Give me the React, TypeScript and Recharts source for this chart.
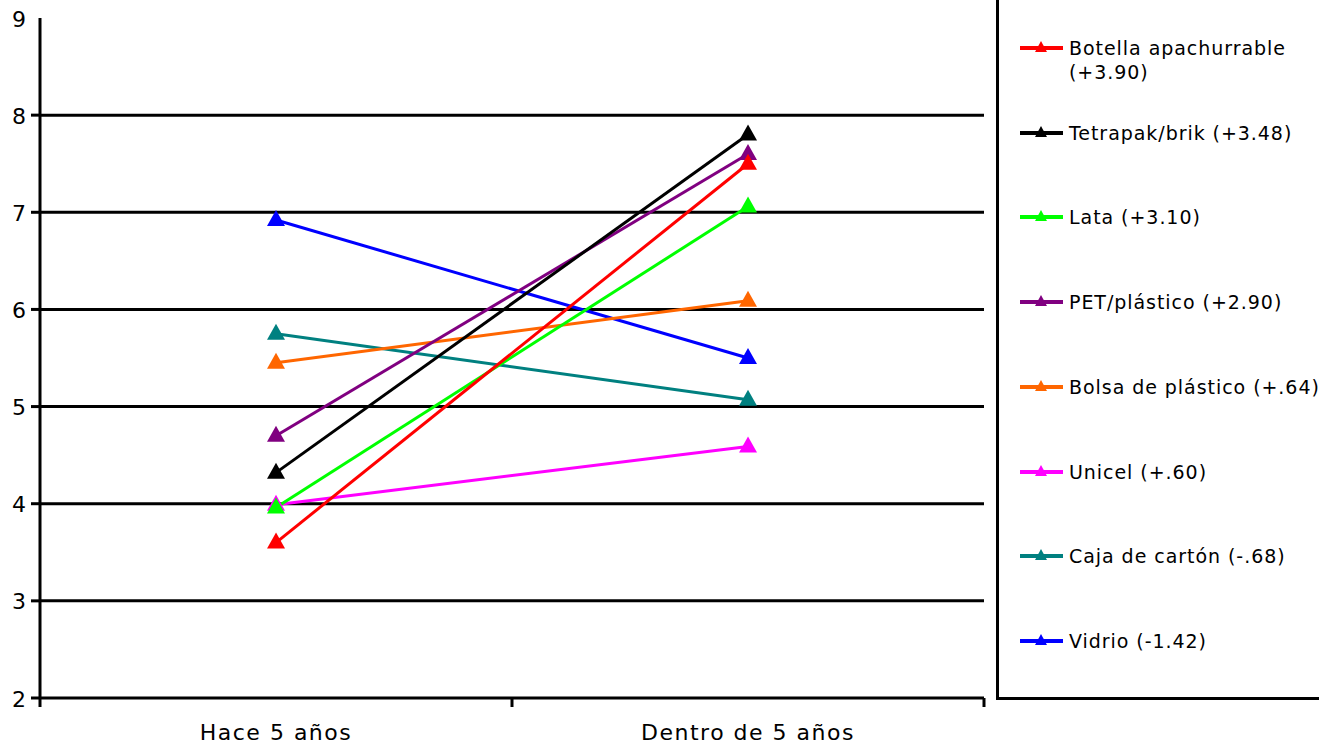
import React from 'react';
import { LineChart, Line, XAxis, YAxis, CartesianGrid, Legend } from 'recharts';

const categories = ['Hace 5 años', 'Dentro de 5 años'];
const categoryPositions = [0.5, 1.5];
const xTicks = [0, 0.5, 1, 1.5, 2];

const botella = [3.6, 7.5];
const tetrapak = [4.32, 7.8];
const lata = [3.96, 7.06];
const pet = [4.7, 7.6];
const bolsa = [5.45, 6.09];
const unicel = [3.99, 4.59];
const caja = [5.75, 5.07];
const vidrio = [6.92, 5.5];

const seriesNames = [
  'Botella apachurrable (+3.90)',
  'Tetrapak/brik (+3.48)',
  'Lata (+3.10)',
  'PET/plástico (+2.90)',
  'Bolsa de plástico (+.64)',
  'Unicel (+.60)',
  'Caja de cartón (-.68)',
  'Vidrio (-1.42)',
];
const seriesColors = ['#FF0000', '#000000', '#00FF00', '#800080', '#FF6600', '#FF00FF', '#008080', '#0000FF'];
const seriesValues = [botella, tetrapak, lata, pet, bolsa, unicel, caja, vidrio];

const yTicks = [2, 3, 4, 5, 6, 7, 8, 9];
const gridValues = [3, 4, 5, 6, 7, 8];

const data = categories.map((c, i) => {
  const row: any = { x: categoryPositions[i], cat: c };
  seriesValues.forEach((vals, s) => {
    row['s' + s] = vals[i];
  });
  return row;
});

const FONT = '"DejaVu Sans", Verdana, sans-serif';

const makeDot = (color: string) => (props: any) => {
  const { cx, cy, key, index } = props;
  if (cx == null || cy == null) return <g key={key ?? index} />;
  const pts = `${cx},${cy - 10} ${cx - 9},${cy + 6} ${cx + 9},${cy + 6}`;
  return <polygon key={key ?? `d${index}`} points={pts} fill={color} stroke="none" />;
};

const YTick = (props: any) => {
  const { x, y, payload } = props;
  const v = payload.value;
  return (
    <g>
      {v !== 9 && <line x1={x - 9} y1={y} x2={x} y2={y} stroke="#000" strokeWidth={3} />}
      <text x={x - 14} y={y + 1} textAnchor="end" dominantBaseline="central" fontSize={22} fontFamily={FONT} fill="#000">
        {v}
      </text>
    </g>
  );
};

const XTick = (props: any) => {
  const { x, y, payload } = props;
  const v = payload.value;
  if (Number.isInteger(v)) {
    return <line x1={x} y1={y} x2={x} y2={y + 9} stroke="#000" strokeWidth={3} />;
  }
  const label = categories[Math.floor(v)];
  return (
    <text x={x} y={y + 42} textAnchor="middle" fontSize={22} letterSpacing={1.5} fontFamily={FONT} fill="#000">
      {label}
    </text>
  );
};

const renderLegend = () => (
  <div
    style={{
      position: 'relative',
      width: 323,
      height: 700,
      boxSizing: 'border-box',
      borderLeft: '3px solid #000',
      borderBottom: '3px solid #000',
      fontFamily: FONT,
      fontSize: 19,
      color: '#000',
    }}
  >
    {seriesNames.map((name, i) => (
      <div
        key={name}
        style={{ position: 'absolute', left: 21, top: 48 + i * 84.7 - 12, display: 'flex', alignItems: 'flex-start' }}
      >
        <svg width={49} height={24} style={{ flex: 'none' }}>
          <line x1={0} y1={12} x2={43} y2={12} stroke={seriesColors[i]} strokeWidth={4} />
          <polygon points="21,5 15,16 27,16" fill={seriesColors[i]} />
        </svg>
        <div style={{ width: 262, lineHeight: '24px', letterSpacing: 0.95, whiteSpace: 'normal' }}>{name}</div>
      </div>
    ))}
  </div>
);

export default function App() {
  const order = seriesValues.map((_, i) => i).reverse();
  return (
    <div style={{ position: 'absolute', left: 0, top: 0, width: 1319, height: 746, background: '#fff', overflow: 'hidden' }}>
      <LineChart width={1319} height={746} data={data} margin={{ top: 18, right: 335, bottom: 0, left: 0 }}>
        <CartesianGrid horizontal={true} vertical={false} horizontalValues={gridValues} stroke="#000" strokeWidth={3} />
        <XAxis
          type="number"
          dataKey="x"
          domain={[0, 2]}
          ticks={xTicks}
          tick={<XTick />}
          tickLine={false}
          tickSize={0}
          tickMargin={0}
          height={48}
          axisLine={{ stroke: '#000', strokeWidth: 3 }}
          interval={0}
        />
        <YAxis
          type="number"
          domain={[2, 9]}
          ticks={yTicks}
          tick={<YTick />}
          tickLine={false}
          tickSize={0}
          tickMargin={0}
          width={40}
          axisLine={{ stroke: '#000', strokeWidth: 3 }}
          interval={0}
        />
        <Legend
          layout="vertical"
          align="center"
          verticalAlign="middle"
          content={renderLegend}
          wrapperStyle={{ position: 'absolute', left: 996, top: 0, width: 323, height: 700 }}
        />
        {order.map((i) => (
          <Line
            key={i}
            type="linear"
            dataKey={'s' + i}
            name={seriesNames[i]}
            stroke={seriesColors[i]}
            strokeWidth={3}
            dot={makeDot(seriesColors[i])}
            activeDot={false}
            isAnimationActive={false}
          />
        ))}
      </LineChart>
    </div>
  );
}
